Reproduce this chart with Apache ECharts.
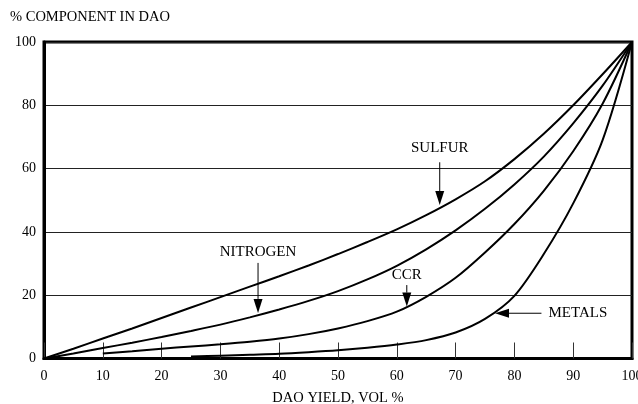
<!DOCTYPE html>
<html><head><meta charset="utf-8">
<script src="https://cdn.jsdelivr.net/npm/echarts@6/dist/echarts.min.js"></script>
<style>html,body{margin:0;padding:0;background:#fff}#c{width:638px;height:404px}</style>
</head><body><div id="c"></div>
<script>
// ---- data ----
const sulfurX   = [0, 5, 10, 15, 20, 25, 30, 35, 40, 45, 50, 55, 60, 65, 70, 75, 80, 85, 90, 95, 100];
const sulfurY   = [0, 3.1, 6.3, 9.5, 12.8, 16.1, 19.4, 22.7, 26, 29.4, 33, 36.8, 40.8, 45.3, 50.3, 56, 63, 71, 80, 89.8, 100];
const nitrogenX = [0, 5, 10, 15, 20, 25, 30, 35, 40, 45, 50, 55, 60, 65, 70, 75, 80, 85, 90, 95, 100];
const nitrogenY = [0, 1.6, 3.3, 5, 6.8, 8.7, 10.7, 13, 15.5, 18.2, 21.3, 25, 29.3, 34.5, 40.5, 47.3, 55, 63.8, 74.3, 86.2, 100];
const ccrX      = [10, 15, 20, 25, 30, 35, 40, 45, 50, 55, 60, 65, 70, 75, 80, 85, 90, 95, 100];
const ccrY      = [1.6, 2.3, 3.1, 3.8, 4.5, 5.3, 6.3, 7.7, 9.5, 11.8, 14.8, 19.5, 25.5, 33.5, 42.5, 53, 65.5, 80.5, 100];
const metalsX   = [25, 30, 35, 40, 45, 50, 55, 60, 65, 70, 75, 80, 85, 90, 95, 100];
const metalsY   = [0.6, 0.9, 1.2, 1.5, 2, 2.6, 3.4, 4.4, 5.8, 8.2, 12.5, 19.8, 33, 49, 69, 100];
const xTicks = [0, 10, 20, 30, 40, 50, 60, 70, 80, 90, 100];
const yTicks = [0, 20, 40, 60, 80, 100];
const yTitle = '% COMPONENT IN DAO';
const xTitle = 'DAO YIELD, VOL %';
// annotations: label position and arrow (data coordinates)
const notes = [
  { text: 'SULFUR',   at: [67.3, 66.5], from: [67.3, 62],   to: [67.3, 48.5] },
  { text: 'NITROGEN', at: [36.4, 33.6], from: [36.4, 30.2], to: [36.4, 14.4] },
  { text: 'CCR',      at: [61.7, 26.4], from: [61.7, 23.2], to: [61.7, 16.4] },
  { text: 'METALS',   at: [85.8, 14.3], from: [84.6, 14.3], to: [76.7, 14.3], align: 'left' }
];

const zip = (xs, ys) => xs.map((x, i) => [x, ys[i]]);
const FONT = '"Liberation Serif", "DejaVu Serif", serif';
const chart = echarts.init(document.getElementById('c'), null, { renderer: 'canvas' });

const lineSeries = (name, xs, ys) => ({
  name, type: 'line', data: zip(xs, ys), smooth: 0.3, symbol: 'none',
  lineStyle: { color: '#000', width: 2 }, z: 5, silent: true
});

chart.setOption({
  animation: false,
  backgroundColor: '#fff',
  title: { text: yTitle, left: 10, top: 10, padding: 0,
    textStyle: { fontFamily: FONT, fontSize: 14.5, fontWeight: 'normal', color: '#000' } },
  grid: { left: 44, right: 6, top: 42, bottom: 45.5, show: true, borderColor: '#000', borderWidth: 3,
    outerBoundsMode: 'none', containLabel: false },
  xAxis: {
    type: 'value', min: 0, max: 100, interval: 10,
    name: xTitle, nameLocation: 'middle', nameGap: 32,
    nameTextStyle: { fontFamily: FONT, fontSize: 14.5, color: '#000' },
    axisLine: { lineStyle: { color: '#000', width: 3 } },
    axisTick: { inside: true, length: 16, lineStyle: { color: '#333', width: 1 } },
    axisLabel: { fontFamily: FONT, fontSize: 14, color: '#000', margin: 11,
      formatter: v => xTicks.includes(v) ? String(v) : '' },
    splitLine: { show: false }
  },
  yAxis: {
    type: 'value', min: 0, max: 100, interval: 20,
    axisLine: { show: true, lineStyle: { color: '#000', width: 3 } },
    axisTick: { show: false },
    axisLabel: { fontFamily: FONT, fontSize: 14, color: '#000', margin: 8,
      formatter: v => yTicks.includes(v) ? String(v) : '' },
    splitLine: { show: true, lineStyle: { color: '#222', width: 1 } }
  },
  series: [
    lineSeries('SULFUR', sulfurX, sulfurY),
    lineSeries('NITROGEN', nitrogenX, nitrogenY),
    lineSeries('CCR', ccrX, ccrY),
    lineSeries('METALS', metalsX, metalsY)
  ]
});

// build annotation graphics from data coordinates
const px = p => chart.convertToPixel({ gridIndex: 0 }, p);
const HEAD_L = 14, HEAD_W = 9;
const g = [];
notes.forEach(n => {
  const t = px(n.at), a = px(n.from), b = px(n.to);
  const dx = b[0] - a[0], dy = b[1] - a[1];
  const len = Math.hypot(dx, dy), ux = dx / len, uy = dy / len;
  const base = [b[0] - ux * HEAD_L, b[1] - uy * HEAD_L];
  const nx = -uy, ny = ux;
  g.push({ type: 'text', x: t[0], y: t[1], z: 20,
    style: { text: n.text, font: '15px ' + FONT, fill: '#000',
      textAlign: n.align || 'center', textVerticalAlign: 'middle' } });
  g.push({ type: 'line', z: 20, shape: { x1: a[0], y1: a[1], x2: base[0], y2: base[1] },
    style: { stroke: '#000', lineWidth: 1 } });
  g.push({ type: 'polygon', z: 20, shape: { points: [
      [b[0], b[1]],
      [base[0] + nx * HEAD_W / 2, base[1] + ny * HEAD_W / 2],
      [base[0] - nx * HEAD_W / 2, base[1] - ny * HEAD_W / 2]] },
    style: { fill: '#000' } });
});
chart.setOption({ graphic: g });
</script>
</body></html>
